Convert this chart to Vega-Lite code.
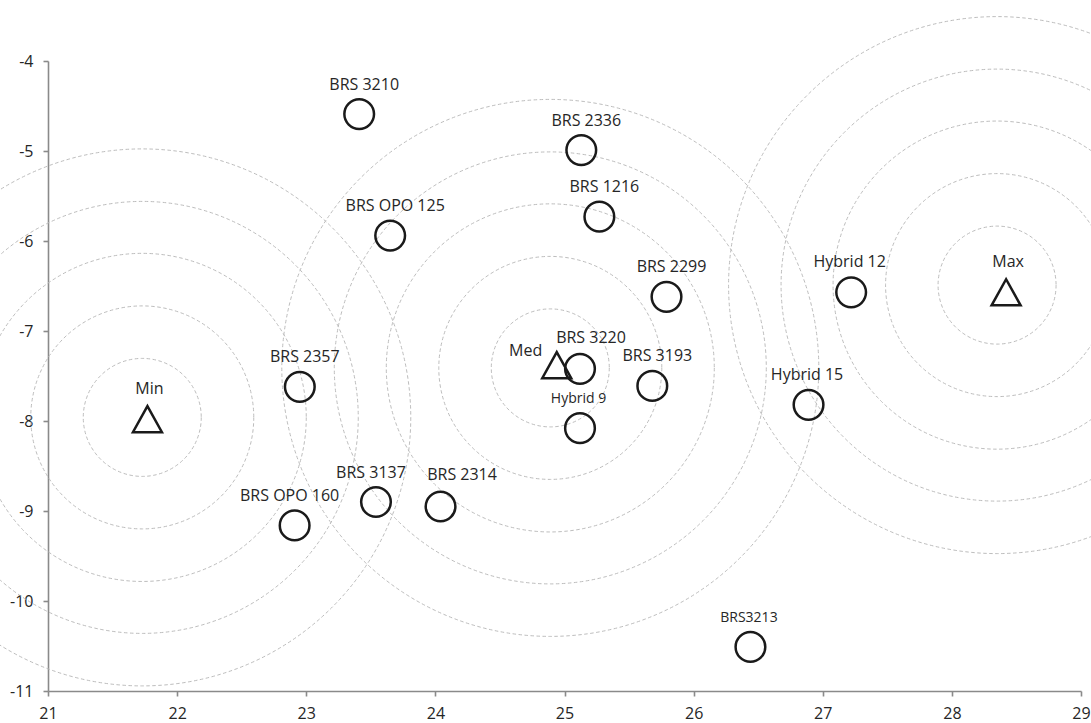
{
  "$schema": "https://vega.github.io/schema/vega-lite/v6.json",
  "width": 1033,
  "height": 630,
  "autosize": {"type": "none"},
  "padding": {"left": 48, "top": 61, "right": 10, "bottom": 32},
  "background": "white",
  "config": {
    "view": {"stroke": null},
    "font": "Open Sans",
    "axis": {
      "grid": false,
      "domainColor": "#8a8a8a",
      "domainWidth": 1.6,
      "tickColor": "#8a8a8a",
      "tickWidth": 1.6,
      "tickSize": 5,
      "labelFont": "Open Sans",
      "labelFontSize": 16,
      "labelColor": "#262626",
      "labelExpr": "toString(datum.value)",
      "title": null
    }
  },
  "datasets": {
    "genotypes": [
      {"name": "BRS 3210", "x": 23.41, "y": -4.59},
      {"name": "BRS 2336", "x": 25.13, "y": -4.99},
      {"name": "BRS 1216", "x": 25.27, "y": -5.73},
      {"name": "BRS OPO 125", "x": 23.65, "y": -5.94},
      {"name": "BRS 2299", "x": 25.79, "y": -6.62},
      {"name": "Hybrid 12", "x": 27.22, "y": -6.57},
      {"name": "BRS 3220", "x": 25.12, "y": -7.42},
      {"name": "BRS 3193", "x": 25.68, "y": -7.61},
      {"name": "Hybrid 9", "x": 25.12, "y": -8.08},
      {"name": "BRS 2357", "x": 22.95, "y": -7.62},
      {"name": "Hybrid 15", "x": 26.89, "y": -7.82},
      {"name": "BRS OPO 160", "x": 22.91, "y": -9.16},
      {"name": "BRS 3137", "x": 23.54, "y": -8.90},
      {"name": "BRS 2314", "x": 24.04, "y": -8.95},
      {"name": "BRS3213", "x": 26.44, "y": -10.51}
    ],
    "refs": [
      {"name": "Min", "x": 21.77, "y": -7.98},
      {"name": "Med", "x": 24.94, "y": -7.38},
      {"name": "Max", "x": 28.42, "y": -6.57}
    ],
    "rings": [
      {"center": "Min", "x": 21.73, "y": -7.96, "ring": 1},
      {"center": "Min", "x": 21.73, "y": -7.96, "ring": 2},
      {"center": "Min", "x": 21.73, "y": -7.96, "ring": 3},
      {"center": "Min", "x": 21.73, "y": -7.96, "ring": 4},
      {"center": "Min", "x": 21.73, "y": -7.96, "ring": 5},
      {"center": "Med", "x": 24.89, "y": -7.41, "ring": 1},
      {"center": "Med", "x": 24.89, "y": -7.41, "ring": 2},
      {"center": "Med", "x": 24.89, "y": -7.41, "ring": 3},
      {"center": "Med", "x": 24.89, "y": -7.41, "ring": 4},
      {"center": "Med", "x": 24.89, "y": -7.41, "ring": 5},
      {"center": "Max", "x": 28.35, "y": -6.49, "ring": 1},
      {"center": "Max", "x": 28.35, "y": -6.49, "ring": 2},
      {"center": "Max", "x": 28.35, "y": -6.49, "ring": 3},
      {"center": "Max", "x": 28.35, "y": -6.49, "ring": 4},
      {"center": "Max", "x": 28.35, "y": -6.49, "ring": 5}
    ]
  },
  "encoding": {
    "x": {
      "field": "x", "type": "quantitative",
      "scale": {"domain": [21, 29], "nice": false, "zero": false},
      "axis": {"values": [21, 22, 23, 24, 25, 26, 27, 28, 29], "labelPadding": 9, "labelFlush": false}
    },
    "y": {
      "field": "y", "type": "quantitative",
      "scale": {"domain": [-11, -4], "nice": false, "zero": false},
      "axis": {"values": [-11, -10, -9, -8, -7, -6, -5, -4], "labelPadding": 10, "labelFlush": false}
    }
  },
  "layer": [
    {
      "data": {"name": "rings"},
      "mark": {"type": "point", "shape": "circle", "filled": false, "stroke": "#bdbdbd", "strokeWidth": 1, "strokeDash": [3.5, 2.5], "opacity": 1},
      "encoding": {
        "size": {
          "field": "ring", "type": "quantitative", "legend": null,
          "scale": {"type": "threshold", "domain": [1.5, 2.5, 3.5, 4.5], "range": [13924, 49729, 107584, 186624, 288369]}
        },
        "detail": {"field": "center"}
      }
    },
    {
      "data": {"name": "genotypes"},
      "mark": {"type": "point", "shape": "circle", "filled": false, "stroke": "#1a1a1a", "strokeWidth": 2.5, "size": 880, "opacity": 1}
    },
    {
      "data": {"name": "refs"},
      "mark": {"type": "point", "shape": "M-1,0.9L1,0.9L0,-0.9Z", "filled": false, "stroke": "#1a1a1a", "strokeWidth": 2.5, "strokeJoin": "miter", "size": 841, "opacity": 1}
    },
    {
      "data": {"name": "genotypes"},
      "transform": [{"filter": {"field": "name", "oneOf": ["BRS 3210", "BRS 2336", "BRS 1216", "BRS OPO 125", "BRS 2299", "BRS 3193", "BRS 2357"]}}],
      "mark": {"type": "text", "align": "center", "baseline": "alphabetic", "dx": 5, "dy": -24.5, "fontSize": 16, "color": "#262626"},
      "encoding": {"text": {"field": "name"}}
    },
    {
      "data": {"name": "genotypes"},
      "transform": [{"filter": {"field": "name", "oneOf": ["Hybrid 9", "Hybrid 12", "Hybrid 15", "BRS3213"]}}],
      "mark": {"type": "text", "align": "center", "baseline": "alphabetic", "dx": -1.5, "dy": -25, "color": "#262626"},
      "encoding": {
        "text": {"field": "name"},
        "size": {"condition": {"test": "datum.name === 'Hybrid 9' || datum.name === 'BRS3213'", "value": 14}, "value": 16}
      }
    },
    {
      "data": {"name": "genotypes"},
      "transform": [{"filter": {"field": "name", "oneOf": ["BRS OPO 160", "BRS 3137"]}}],
      "mark": {"type": "text", "align": "center", "baseline": "alphabetic", "dx": -5, "dy": -24.5, "fontSize": 16, "color": "#262626"},
      "encoding": {"text": {"field": "name"}}
    },
    {
      "data": {"name": "genotypes"},
      "transform": [{"filter": {"field": "name", "equal": "BRS 3220"}}],
      "mark": {"type": "text", "align": "center", "baseline": "alphabetic", "dx": 11, "dy": -26, "fontSize": 16, "color": "#262626"},
      "encoding": {"text": {"field": "name"}}
    },
    {
      "data": {"name": "genotypes"},
      "transform": [{"filter": {"field": "name", "equal": "BRS 2314"}}],
      "mark": {"type": "text", "align": "center", "baseline": "alphabetic", "dx": 21.5, "dy": -26.5, "fontSize": 16, "color": "#262626"},
      "encoding": {"text": {"field": "name"}}
    },
    {
      "data": {"name": "refs"},
      "transform": [{"filter": {"field": "name", "oneOf": ["Min", "Max"]}}],
      "mark": {"type": "text", "align": "center", "baseline": "alphabetic", "dx": 2, "dy": -25.5, "fontSize": 16, "color": "#262626"},
      "encoding": {"text": {"field": "name"}}
    },
    {
      "data": {"name": "refs"},
      "transform": [{"filter": {"field": "name", "equal": "Med"}}],
      "mark": {"type": "text", "align": "right", "baseline": "alphabetic", "dx": -14.5, "dy": -9, "fontSize": 16, "color": "#262626"},
      "encoding": {"text": {"field": "name"}}
    }
  ]
}
